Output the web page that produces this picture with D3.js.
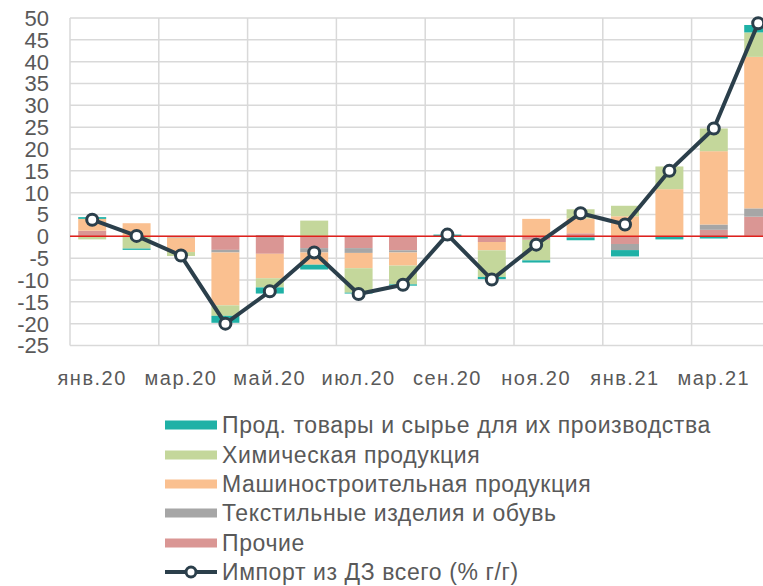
<!DOCTYPE html>
<html><head><meta charset="utf-8">
<script src="https://cdn.jsdelivr.net/npm/d3@7"></script>
<style>
html,body{margin:0;padding:0;background:#fff;}
svg{display:block;font-family:"Liberation Sans",Arial,sans-serif;}
</style></head>
<body><svg id="c" width="763" height="586"></svg>
<script>
const months = ["янв.20","фев.20","мар.20","апр.20","май.20","июн.20","июл.20","авг.20","сен.20","окт.20","ноя.20","дек.20","янв.21","фев.21","мар.21","апр.21"];
const food    = [0.4, -0.3, 0, -1.6, -1.4, -1.1, -0.2, -0.3, 0.4, -0.5, -0.5, -0.6, -1.45, -0.7, -0.5, 1.7];
const chem    = [-0.7, -2.8, -0.9, -2.4, -2.1, 3.6, -5.6, -4.3, 0, -6.1, -4.7, 2.1, 2.4, 5.2, 5.2, 5.6];
const machine = [2.7, 3.0, -3.3, -12.1, -5.6, -2.8, -3.5, -3.0, -0.1, -1.9, 4.0, 3.4, 4.6, 10.8, 16.8, 34.7];
const textile = [0, 0, -0.2, -0.6, 0.3, -1.0, -1.1, -0.5, 0, 0, 0, -0.3, -1.4, 0, 1.2, 1.9];
const other   = [1.3, 0, -0.1, -3.1, -4.0, -2.7, -2.7, -3.2, 0, -1.3, -0.8, 0.7, -1.75, 0, 1.5, 4.5];
const total   = [3.8, 0.1, -4.4, -20.0, -12.6, -3.7, -13.2, -11.1, 0.4, -9.9, -1.9, 5.3, 2.7, 15.0, 24.7, 48.8];
const yTicks  = [50,45,40,35,30,25,20,15,10,5,0,-5,-10,-15,-20,-25];
const seriesNames = ["Прод. товары и сырье для их производства","Химическая продукция","Машиностроительная продукция","Текстильные изделия и обувь","Прочие"];
const lineName = "Импорт из ДЗ всего (% г/г)";

const colors = {food:"#1FB1A6", chem:"#C4D79B", machine:"#FAC090", textile:"#A6A6A6", other:"#DA9694"};
const lineColor = "#2B3F4B";

const svg = d3.select("#c");
const pLeft = 70, step = 44.4, pTop = 18, pBottom = 345.5;
const x = d3.scaleBand().domain(months).range([pLeft, pLeft + step*months.length]).paddingInner(0.37).paddingOuter(0.185);
const y = d3.scaleLinear().domain([-25, 50]).range([pBottom, pTop]);

// grid
const g = svg.append("g");
g.selectAll("line.h").data(yTicks).join("line")
  .attr("x1", pLeft).attr("x2", 763).attr("y1", d=>y(d)).attr("y2", d=>y(d))
  .attr("stroke", "#D9D9D9").attr("stroke-width", 1.5);
const vIdx = d3.range(0, months.length+1, 2);
g.selectAll("line.v").data(vIdx).join("line")
  .attr("x1", i=>pLeft + i*x.step()).attr("x2", i=>pLeft + i*x.step())
  .attr("y1", pTop).attr("y2", pBottom)
  .attr("stroke", "#D9D9D9").attr("stroke-width", 1.5);

// y labels
svg.append("g").selectAll("text").data(yTicks).join("text")
  .attr("x", 49).attr("y", d=>y(d)).attr("dy", "0.36em")
  .attr("text-anchor", "end").attr("fill", "#595959").attr("font-size", 22)
  .text(d=>d);

// x labels
svg.append("g").selectAll("text").data(months.filter((m,i)=>i%2===0)).join("text")
  .attr("x", d=>x(d)+x.bandwidth()/2).attr("y", 385)
  .attr("text-anchor", "middle").attr("fill", "#595959").attr("font-size", 20)
  .attr("letter-spacing", 1.5)
  .text(d=>d);

// stacked bars
const keys = ["other","textile","machine","chem","food"];
const arrs = {food, chem, machine, textile, other};
const table = months.map((m,i)=>{ const o={month:m}; keys.forEach(k=>o[k]=arrs[k][i]); return o; });
const stack = d3.stack().keys(keys).offset(d3.stackOffsetDiverging)(table);
svg.append("g").selectAll("g").data(stack).join("g")
  .attr("fill", d=>colors[d.key])
  .selectAll("rect").data(d=>d).join("rect")
  .attr("x", d=>x(d.data.month)).attr("width", x.bandwidth())
  .attr("y", d=>y(Math.max(d[0],d[1]))).attr("height", d=>Math.abs(y(d[0])-y(d[1])));

// zero line
svg.append("line").attr("x1", pLeft).attr("x2", 763).attr("y1", y(0)).attr("y2", y(0))
  .attr("stroke", "#E0201C").attr("stroke-width", 1.5);

// line
const pts = months.map((m,i)=>[x(m)+x.bandwidth()/2, y(total[i])]);
svg.append("path").attr("d", d3.line()(pts)).attr("fill","none")
  .attr("stroke", lineColor).attr("stroke-width", 4).attr("stroke-linejoin","round");
svg.append("g").selectAll("circle").data(pts).join("circle")
  .attr("cx", d=>d[0]).attr("cy", d=>d[1]).attr("r", 5.5)
  .attr("fill", "#fff").attr("stroke", lineColor).attr("stroke-width", 3);

// legend
const legKeys = ["food","chem","machine","textile","other"];
const rowY = [425, 455, 484, 513, 543, 572];
const lg = svg.append("g");
legKeys.forEach((k,i)=>{
  lg.append("rect").attr("x",165).attr("y",rowY[i]-4.5).attr("width",52).attr("height",9).attr("fill",colors[k]);
  lg.append("text").attr("x",222).attr("y",rowY[i]).attr("dy","0.36em").attr("fill","#595959").attr("font-size",23).attr("letter-spacing",0.6).text(seriesNames[i]);
});
lg.append("line").attr("x1",165).attr("x2",217).attr("y1",rowY[5]).attr("y2",rowY[5]).attr("stroke",lineColor).attr("stroke-width",4);
lg.append("circle").attr("cx",191).attr("cy",rowY[5]).attr("r",5).attr("fill","#fff").attr("stroke",lineColor).attr("stroke-width",3);
lg.append("text").attr("x",222).attr("y",rowY[5]).attr("dy","0.36em").attr("fill","#595959").attr("font-size",23).attr("letter-spacing",0.6).text(lineName);
</script></body></html>
